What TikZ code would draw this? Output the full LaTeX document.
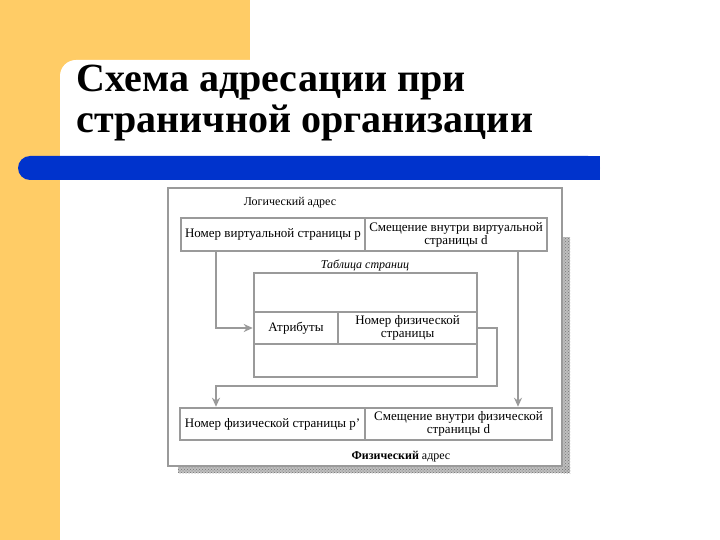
\documentclass[tikz,border=0pt]{standalone}
\usepackage{fontspec}
\setmainfont{Liberation Serif}
\usetikzlibrary{positioning,patterns,arrows.meta}
\definecolor{slideorange}{HTML}{FFCC66}
\definecolor{slideblue}{HTML}{0033CC}
\definecolor{framegray}{HTML}{9A9A9A}
\tikzset{
	cell/.style={draw=framegray, line width=2.5pt, inner sep=0pt, align=center, font=\fontsize{13}{13}\selectfont},
	link/.style={draw=framegray, line width=2.5pt},
	linkarrow/.style={link, -{Stealth[length=9pt,width=8pt]}},
	caption/.style={font=\fontsize{12}{13}\selectfont}
}
\begin{document}
\begin{tikzpicture}[x=1pt,y=-1pt]
		\useasboundingbox (0,0) rectangle (720,540);
		
		%Slide background
		\fill[slideorange] (0,0) rectangle (250,540);
		\fill[white, rounded corners=16pt] (60,60) rectangle (760,580);
		\fill[slideblue, rounded corners=12pt] (18,156) rectangle (600,180);
		\fill[slideblue] (300,156) rectangle (600,180);
		
		%Title
		\node[anchor=base west, font=\fontsize{40}{41}\selectfont\bfseries] (title1) at (73,92) {Схема адресации при};
		\node[anchor=base west, font=\fontsize{40}{41}\selectfont\bfseries] (title2) at (73,133) {страничной организации};
		
		%Frame and shadow
		\fill[gray!50] (562,237) rectangle (570,473);
		\fill[gray!50] (178,466) rectangle (570,473);
		\fill[pattern=crosshatch dots, pattern color=gray!90!black] (562,237) rectangle (570,473);
		\fill[pattern=crosshatch dots, pattern color=gray!90!black] (178,466) rectangle (570,473);
		\draw[framegray, line width=2.5pt, fill=white] (168,188) rectangle (562,466);
		
		%Logical address
		\node[caption] (logaddr) at (290,203) {Логический адрес};
		\node[cell, minimum width=184pt, minimum height=33pt] (virtpage) at (273,234.5) {Номер виртуальной страницы p};
		\node[cell, minimum width=182pt, minimum height=33pt] (offvirt) at (456,234.5) {Смещение внутри виртуальной\\страницы d};
		
		%Page table
		\node[caption, font=\fontsize{12}{13}\selectfont\itshape] (tablecap) at (365,265) {Таблица страниц};
		\node[cell, minimum width=223pt, minimum height=39pt] (rowtop) at (365.5,292.5) {};
		\node[cell, minimum width=84pt, minimum height=32pt] (attr) at (296,328) {Атрибуты};
		\node[cell, minimum width=139pt, minimum height=32pt] (framenum) at (407.5,328) {Номер физической\\страницы};
		\node[cell, minimum width=223pt, minimum height=33pt] (rowbot) at (365.5,360.5) {};
		
		%Physical address
		\node[cell, minimum width=185pt, minimum height=32pt] (physpage) at (272.5,424) {Номер физической страницы p'};
		\node[cell, minimum width=187pt, minimum height=32pt] (offphys) at (458.5,424) {Смещение внутри физической\\страницы d};
		\node[caption] (physaddr) at (401,457) {\textbf{Физический} адрес};
		
		%Connectors
		\coordinate (pcol) at (216,0);
		\coordinate (dcol) at (518,0);
		\coordinate (turn) at (497,386);
		\draw[linkarrow] (virtpage.south -| pcol) |- (attr.west);
		\draw[linkarrow] (framenum.east) -| (turn) -| (physpage.north -| pcol);
		\draw[linkarrow] (offvirt.south -| dcol) -- (offphys.north -| dcol);
		
\end{tikzpicture}
\end{document}
